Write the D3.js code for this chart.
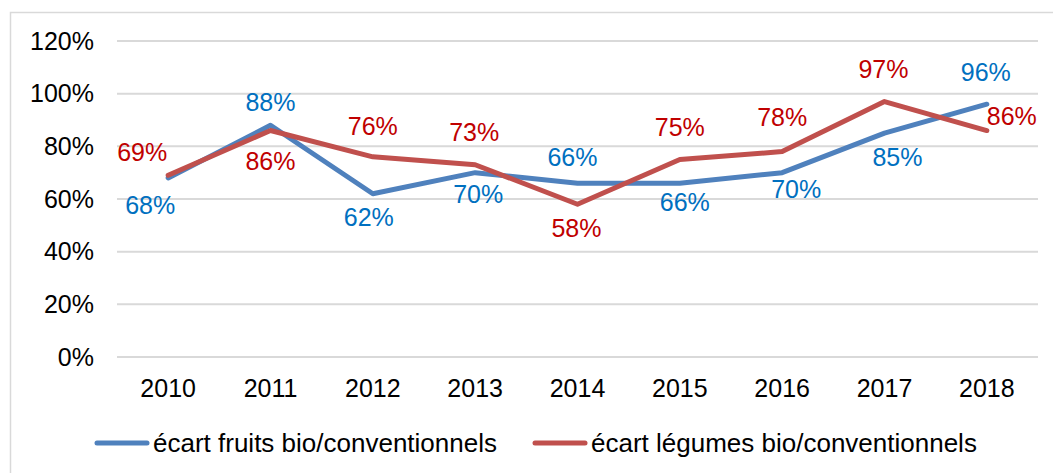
<!DOCTYPE html>
<html>
<head>
<meta charset="utf-8">
<script src="https://cdn.jsdelivr.net/npm/d3@7"></script>
<style>
  body { margin: 0; background: #fff; }
  text { font-family: "Liberation Sans", Arial, sans-serif; }
</style>
</head>
<body>
<svg id="chart" width="1053" height="473"></svg>
<script>
const years = ['2010', '2011', '2012', '2013', '2014', '2015', '2016', '2017', '2018'];
const fruits = [68, 88, 62, 70, 66, 66, 70, 85, 96];
const legumes = [69, 86, 76, 73, 58, 75, 78, 97, 86];
const yTicks = [0, 20, 40, 60, 80, 100, 120];
const seriesNames = ['écart fruits bio/conventionnels', 'écart légumes bio/conventionnels'];

// label placement (dx, dy from the point), like Excel put them
const fruitLabelOff = [[-18, 27], [0, -23], [-4, 24], [3, 22], [-5, -26], [5, 19], [14, 17], [13, 24], [-1, -32]];
const legumeLabelOff = [[-26, -23], [0, 31], [0, -31], [-1, -33], [-1, 24], [0, -32], [0, -34], [-1, -32], [25, -14]];

const svg = d3.select('#chart');
const width = 1053, height = 473;
const fs = 25;

// outer frame (right/bottom edges fall outside the picture)
svg.append('path')
  .attr('d', `M10.5,${height + 5}V12.5H${width + 5}`)
  .attr('fill', 'none')
  .attr('stroke', '#d9d9d9')
  .attr('stroke-width', 1.5);

const x = d3.scaleBand()
  .domain(years)
  .range([117, 1038]);

const y = d3.scaleLinear()
  .domain([0, 120])
  .range([357, 41]);

// grid
svg.append('g')
  .selectAll('line')
  .data(yTicks)
  .enter().append('line')
  .attr('x1', 117)
  .attr('x2', 1038)
  .attr('y1', d => y(d))
  .attr('y2', d => y(d))
  .attr('stroke', '#d9d9d9')
  .attr('stroke-width', 2);

// y axis
const yAxis = d3.axisLeft(y).tickValues(yTicks).tickFormat(d => d + '%').tickSize(0).tickPadding(0);
const gy = svg.append('g').attr('transform', 'translate(94,0)').call(yAxis);
gy.select('.domain').remove();
gy.selectAll('text')
  .attr('font-size', fs)
  .attr('fill', '#000')
  .attr('font-family', '"Liberation Sans", Arial, sans-serif');

// x axis
const xAxis = d3.axisBottom(x).tickSize(0).tickPadding(0);
const gx = svg.append('g').attr('transform', 'translate(0,379)').call(xAxis);
gx.select('.domain').remove();
gx.selectAll('text')
  .attr('font-size', fs)
  .attr('fill', '#000')
  .attr('font-family', '"Liberation Sans", Arial, sans-serif');

const cx = d => x(d) + x.bandwidth() / 2;

const line = d3.line()
  .x((d, i) => cx(years[i]))
  .y(d => y(d));

const series = [
  {vals: fruits, stroke: '#4f81bd', label: '#0070c0', off: fruitLabelOff},
  {vals: legumes, stroke: '#c0504d', label: '#c00000', off: legumeLabelOff}
];

series.forEach(s => {
  svg.append('path')
    .datum(s.vals)
    .attr('d', line)
    .attr('fill', 'none')
    .attr('stroke', s.stroke)
    .attr('stroke-width', 5)
    .attr('stroke-linejoin', 'round')
    .attr('stroke-linecap', 'round');
});

series.forEach(s => {
  svg.append('g')
    .selectAll('text')
    .data(s.vals)
    .enter().append('text')
    .attr('x', (d, i) => cx(years[i]) + s.off[i][0])
    .attr('y', (d, i) => y(d) + s.off[i][1])
    .attr('dy', '0.35em')
    .attr('text-anchor', 'middle')
    .attr('font-size', fs)
    .attr('fill', s.label)
    .text(d => d + '%');
});

// legend
const legendX = [95, 533];
const legend = svg.append('g').selectAll('g')
  .data(seriesNames)
  .enter().append('g')
  .attr('transform', (d, i) => `translate(${legendX[i]},443)`);

legend.append('line')
  .attr('x1', 2).attr('x2', 52)
  .attr('stroke', (d, i) => series[i].stroke)
  .attr('stroke-width', 5)
  .attr('stroke-linecap', 'round');

legend.append('text')
  .attr('x', 58)
  .attr('dy', '0.35em')
  .attr('font-size', 26)
  .attr('fill', '#000')
  .text(d => d);
</script>
</body>
</html>
